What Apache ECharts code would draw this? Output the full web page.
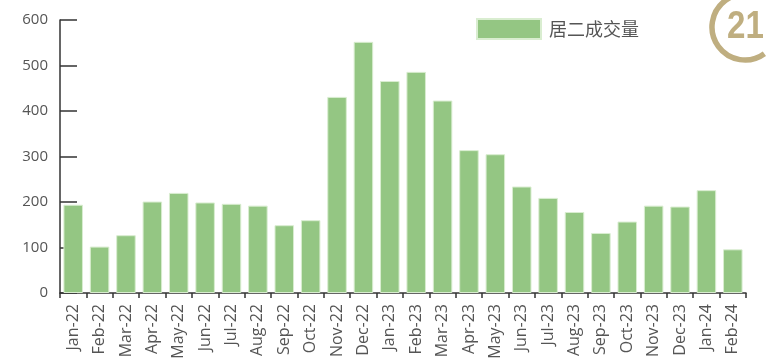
<!DOCTYPE html>
<html>
<head>
<meta charset="utf-8">
<script src="https://cdn.jsdelivr.net/npm/echarts@6/dist/echarts.min.js"></script>
<style>html,body{margin:0;padding:0;background:#fff;}#c{width:768px;height:364px;}</style>
</head>
<body>
<div id="c"></div>
<script>
const categories = ["Jan-22","Feb-22","Mar-22","Apr-22","May-22","Jun-22","Jul-22","Aug-22","Sep-22","Oct-22","Nov-22","Dec-22","Jan-23","Feb-23","Mar-23","Apr-23","May-23","Jun-23","Jul-23","Aug-23","Sep-23","Oct-23","Nov-23","Dec-23","Jan-24","Feb-24"];
const seriesName = "居二成交量";
const values = [194,102,127,201,220,199,196,192,149,160,431,552,466,486,423,314,305,234,209,178,132,157,192,190,226,96];
const yTicks = {min:0, max:600, interval:100};

const chart = echarts.init(document.getElementById('c'), null, {renderer:'canvas'});
chart.setOption({
  animation:false,
  backgroundColor:'#fff',
  grid:{left:60,right:22,top:20,bottom:71,containLabel:false},
  legend:{
    data:[seriesName], left:471, top:13, itemWidth:64, itemHeight:20,
    icon:'rect',
    textStyle:{fontSize:18, color:'#555', fontFamily:'"Noto Sans CJK SC", sans-serif', padding:[0,0,0,3]}
  },
  xAxis:{
    type:'category', data:categories, boundaryGap:true,
    axisLine:{lineStyle:{color:'#333', width:1.5}},
    axisTick:{show:true, length:5, lineStyle:{color:'#333', width:1.5}},
    axisLabel:{rotate:90, fontSize:16, color:'#555', margin:11, interval:0, fontFamily:'"Open Sans", sans-serif'}
  },
  yAxis:{
    type:'value', min:yTicks.min, max:yTicks.max, interval:yTicks.interval,
    axisLine:{show:true, lineStyle:{color:'#333', width:1.5}},
    axisTick:{show:true, inside:true, length:17, lineStyle:{color:'#333', width:1.5}},
    splitLine:{show:false},
    axisLabel:{fontSize:15, color:'#555', margin:12, fontFamily:'"Open Sans", sans-serif'}
  },
  series:[{
    name:seriesName, type:'bar', data:values, barCategoryGap:'26%',
    itemStyle:{color:'#94C683', borderColor:'#D9EDD0', borderWidth:1}
  }],
  graphic:[
    {type:'arc', shape:{cx:745, cy:27, r:33, startAngle:54*Math.PI/180, endAngle:285*Math.PI/180, clockwise:true},
     style:{stroke:'#BFAE80', fill:null, lineWidth:5.5}, z:10},
    {type:'text', x:727, y:27, scaleX:0.85, style:{text:'21', x:0, y:0, fill:'#BFAE80', verticalAlign:'middle', align:'left', font:'bold 39px "Liberation Sans", sans-serif'}, z:10}
  ]
});
</script>
</body>
</html>
